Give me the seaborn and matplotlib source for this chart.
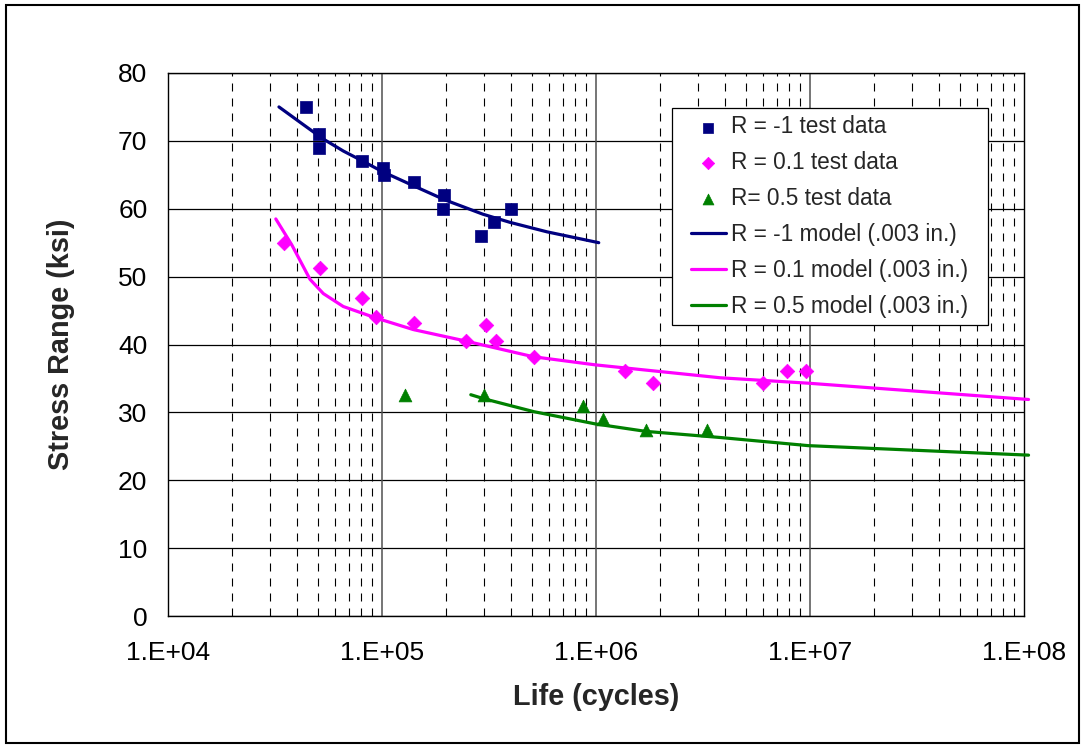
import numpy as np
import pandas as pd
import matplotlib
matplotlib.use("Agg")
import matplotlib.pyplot as plt
import seaborn as sns
from matplotlib.ticker import FixedLocator, FuncFormatter, LogLocator, NullFormatter
from matplotlib.patches import Rectangle
from matplotlib.lines import Line2D
from matplotlib.collections import PathCollection
from matplotlib.legend_handler import HandlerLine2D, HandlerPathCollection

# ---- data ----
rm1_test_N = [44000, 51000, 51000, 81000, 101000, 102000, 141000, 195000, 193000, 290000, 333000, 400000]
rm1_test_S = [75, 71, 69, 67, 66, 65, 64, 62, 60, 56, 58, 60]

r01_test_N = [34800, 51300, 80400, 93800, 141000, 247000, 305000, 340000, 513000, 1.36e6, 1.84e6, 6.0e6, 7.8e6, 9.6e6]
r01_test_S = [55, 51.3, 46.8, 44.1, 43.2, 40.5, 42.8, 40.5, 38.2, 36.1, 34.3, 34.3, 36.1, 36.1]

r05_test_N = [128000, 300000, 873000, 1.08e6, 1.71e6, 3.29e6]
r05_test_S = [32.5, 32.5, 30.9, 29.0, 27.45, 27.45]

rm1_model_N = [33000, 42000, 53000, 66000, 81500, 100000, 140000, 197000, 296000, 396000, 590000, 1.03e6]
rm1_model_S = [75.0, 72.6, 70.3, 68.5, 67.0, 65.5, 63.4, 61.3, 59.2, 58.0, 56.6, 55.0]

r01_model_N = [31900, 37850, 46100, 53200, 65900, 93800, 140000, 247000, 509000, 993000, 3.8e6, 9.8e6, 1.05e8]
r01_model_S = [58.5, 54.7, 49.6, 47.5, 45.6, 43.9, 42.2, 40.5, 38.2, 37.0, 35.1, 34.3, 31.9]

r05_model_N = [260000, 300000, 513000, 993000, 1.71e6, 3.8e6, 9.8e6, 1.05e8]
r05_model_S = [32.6, 32.0, 30.1, 28.3, 27.2, 26.3, 25.1, 23.7]

y_ticks = [0, 10, 20, 30, 40, 50, 60, 70, 80]
x_ticks = [1e4, 1e5, 1e6, 1e7, 1e8]

labels = ["R = -1 test data", "R = 0.1 test data", "R= 0.5 test data",
          "R = -1 model (.003 in.)", "R = 0.1 model (.003 in.)", "R = 0.5 model (.003 in.)"]

NAVY = "#000080"
MAGENTA = "#FF00FF"
GREEN = "#008000"

# ---- style ----
sns.set_style("white")
plt.rcParams["font.family"] = ["Liberation Sans", "DejaVu Sans"]

fig = plt.figure(figsize=(10.86, 7.45), dpi=100)
fig.patch.set_facecolor("white")
ax = fig.add_axes([168 / 1086, 1 - 616 / 745, (1024 - 168) / 1086, (616 - 73) / 745])
ax.set_facecolor("white")

ax.set_xscale("log")
ax.set_xlim(1e4, 1e8)
ax.set_ylim(0, 80)

ax.yaxis.set_major_locator(FixedLocator(y_ticks))
ax.xaxis.set_major_locator(FixedLocator(x_ticks))
ax.xaxis.set_minor_locator(LogLocator(base=10, subs=np.arange(2, 10)))
ax.xaxis.set_minor_formatter(NullFormatter())
ax.xaxis.set_major_formatter(FuncFormatter(lambda v, p: f"1.E+{int(round(np.log10(v))):02d}"))

# grid
ax.grid(False)
for yv in y_ticks:
    ax.axhline(yv, color="black", lw=0.9, zorder=1)
for xv in x_ticks[1:-1]:
    ax.axvline(xv, color="#505050", lw=1.1, zorder=1)
for dec in [1e4, 1e5, 1e6, 1e7]:
    for m in range(2, 10):
        ax.axvline(dec * m, color="black", lw=0.8, linestyle=(0, (7.2, 6.3)), zorder=1)

# model lines
sns.lineplot(x=rm1_model_N, y=rm1_model_S, color=NAVY, lw=2.3, sort=False, estimator=None,
             ax=ax, label=labels[3], zorder=3)
sns.lineplot(x=r01_model_N, y=r01_model_S, color=MAGENTA, lw=2.3, sort=False, estimator=None,
             ax=ax, label=labels[4], zorder=3)
sns.lineplot(x=r05_model_N, y=r05_model_S, color=GREEN, lw=2.3, sort=False, estimator=None,
             ax=ax, label=labels[5], zorder=3)
for ln in ax.lines[-3:]:
    ln.set_clip_on(False)

# test data
sns.scatterplot(x=rm1_test_N, y=rm1_test_S, marker="s", s=66, color=NAVY, edgecolor=NAVY,
                linewidth=0.5, ax=ax, label=labels[0], zorder=4)
sns.scatterplot(x=r01_test_N, y=r01_test_S, marker="D", s=55, color=MAGENTA, edgecolor=MAGENTA,
                linewidth=0.5, ax=ax, label=labels[1], zorder=4)
sns.scatterplot(x=r05_test_N, y=r05_test_S, marker="^", s=85, color=GREEN, edgecolor=GREEN,
                linewidth=0.5, ax=ax, label=labels[2], zorder=4)

for sp in ax.spines.values():
    sp.set_color("black")
    sp.set_linewidth(1.0)
    sp.set_zorder(2)

ax.tick_params(axis="both", which="major", direction="out", length=5.8, width=0.9,
               color="black", labelsize=19, labelcolor="black")
ax.tick_params(axis="y", which="major", pad=9)
ax.tick_params(axis="x", which="major", pad=12)
ax.tick_params(axis="x", which="minor", direction="in", length=3, width=0.8, color="black")

ax.set_xlabel("Life (cycles)", fontsize=20.8, fontweight="bold")
ax.set_ylabel("Stress Range (ksi)", fontsize=20.8, fontweight="bold")
ax.xaxis.set_label_coords(0.5, -0.123)
ax.yaxis.set_label_coords(-0.109, 0.5)

# legend
handles, labs = ax.get_legend_handles_labels()
order = [labs.index(l) for l in labels]
fs_leg = 16.3
xpad = 0.5
leg_x0 = (672 - 168) / 856
leg_top = (616 - 108) / 543
leg_w = (988 - 672) / 856
leg_h = 0.3
leg = ax.legend([handles[i] for i in order], [labs[i] for i in order],
                loc="upper left", bbox_to_anchor=(leg_x0, leg_top - leg_h, leg_w, leg_h),
                mode="expand", borderaxespad=0, frameon=True, fancybox=False, fontsize=fs_leg,
                labelspacing=0.57, handlelength=2.05, handletextpad=0.22,
                borderpad=0.33, markerscale=0.85, scatterpoints=1,
                handler_map={Line2D: HandlerLine2D(xpad=xpad),
                             PathCollection: HandlerPathCollection(xpad=xpad)})
leg.get_frame().set_edgecolor("black")
leg.get_frame().set_linewidth(0.9)
leg.get_frame().set_facecolor("white")
leg.get_frame().set_alpha(1.0)
leg.set_zorder(10)

# figure border
fig.patches.append(Rectangle((6 / 1086, 2 / 745), 1073 / 1086, 738 / 745, transform=fig.transFigure,
                             fill=False, edgecolor="black", lw=1.5))

fig.savefig("out.png", dpi=100, facecolor="white")
